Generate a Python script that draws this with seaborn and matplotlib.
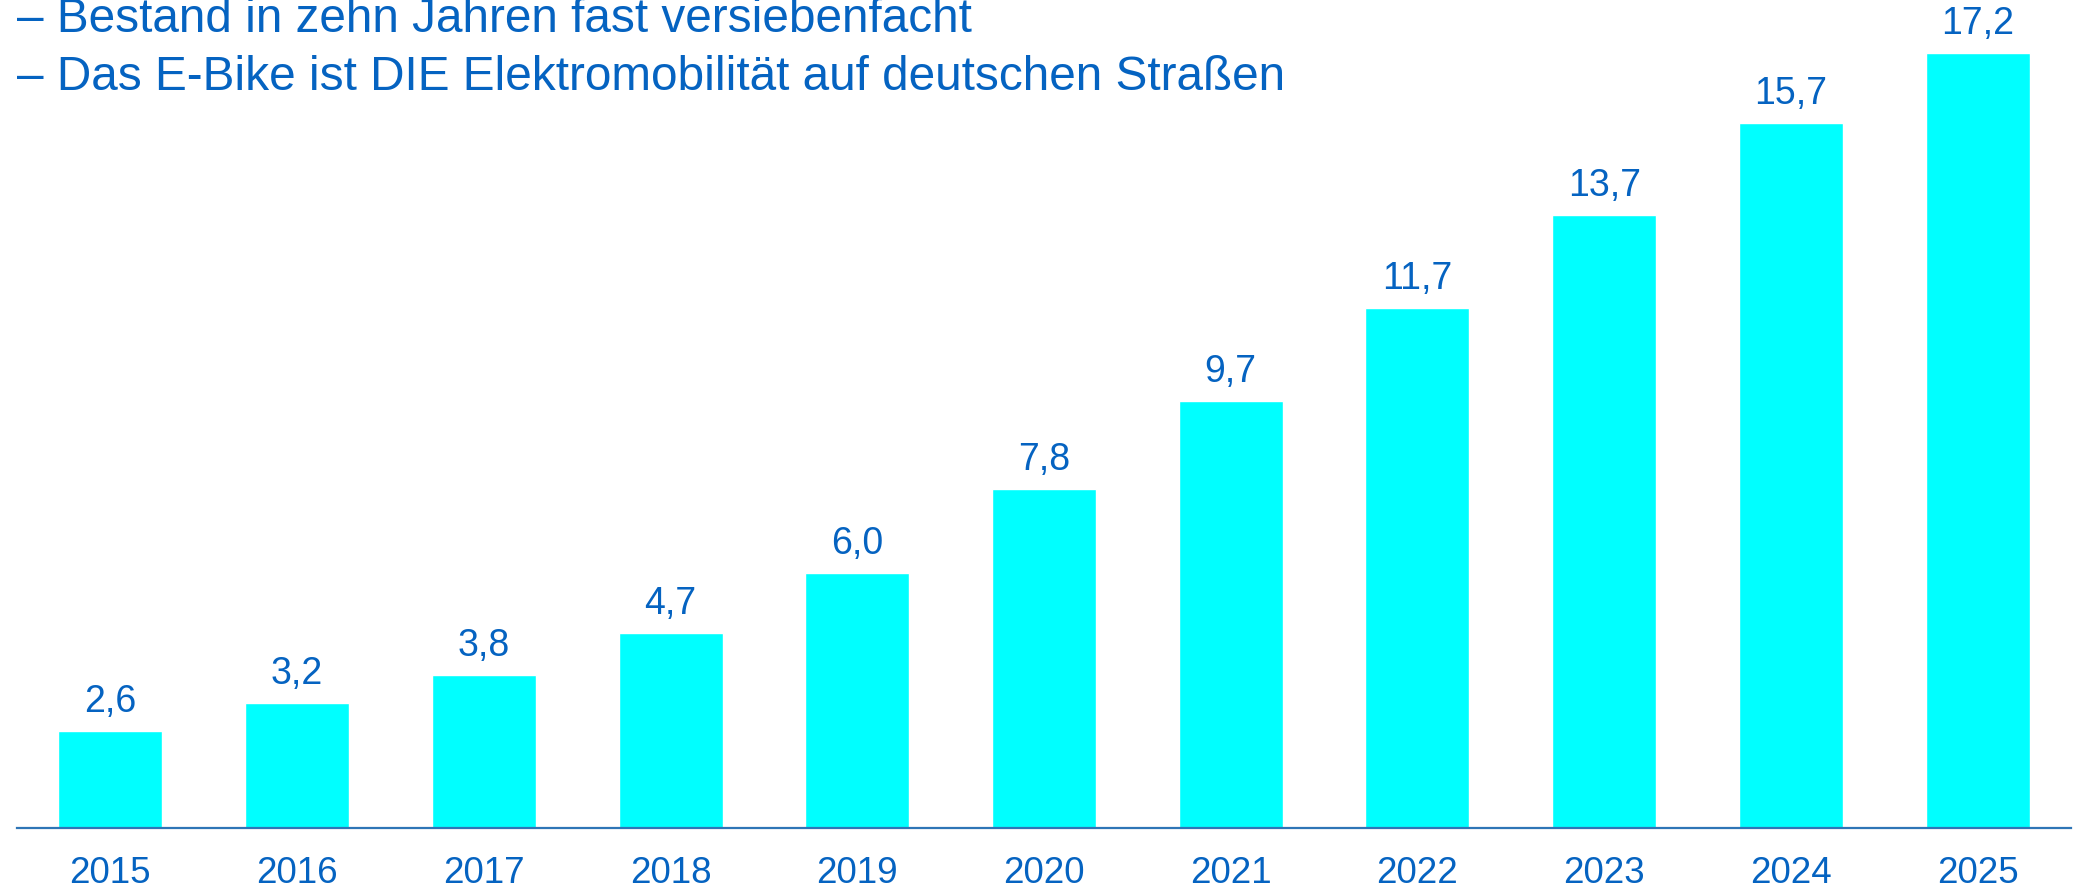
import matplotlib
matplotlib.use("Agg")
import matplotlib.pyplot as plt
import pandas as pd
import seaborn as sns

years = ["2015", "2016", "2017", "2018", "2019", "2020",
         "2021", "2022", "2023", "2024", "2025"]
bestand = [2.6, 3.2, 3.8, 4.7, 6.0, 7.8, 9.7, 11.7, 13.7, 15.7, 17.2]
headline = [
    "\u2013 Bestand in zehn Jahren fast versiebenfacht",
    "\u2013 Das E-Bike ist DIE Elektromobilit\u00e4t auf deutschen Stra\u00dfen",
]

blue = "#0563C1"
cyan = "#00FFFF"

sns.set_style("white")
plt.rcParams["font.family"] = ["Liberation Sans", "DejaVu Sans"]

df = pd.DataFrame({"Jahr": years, "Bestand": bestand})

W, H = 2083, 891
fig = plt.figure(figsize=(W / 100, H / 100), dpi=100)
ax = fig.add_axes([17 / W, (H - 828) / H, (2071 - 17) / W, 828 / H])

sns.barplot(data=df, x="Jahr", y="Bestand", color=cyan, saturation=1,
            width=0.557, ax=ax)

ax.set_xlim(-0.5, 10.5)
ax.set_ylim(0.51, 0.51 + 828 / 46.44)

# value labels above bars, German decimal comma
for i, v in enumerate(bestand):
    ax.annotate(f"{v:.1f}".replace(".", ","), xy=(i, v), xytext=(0, 19),
                textcoords="offset pixels", ha="center", va="baseline",
                fontsize=27, color=blue)

for s in ["top", "left", "right"]:
    ax.spines[s].set_visible(False)
ax.spines["bottom"].set_color("#2E75B6")
ax.spines["bottom"].set_linewidth(1.6)

ax.set_xlabel("")
ax.set_ylabel("")
ax.set_yticks([])
ax.tick_params(axis="x", length=0, pad=20, labelsize=26.5, labelcolor=blue)

# headline bullets at the top
fig.text(17 / W, 1 - 32 / H, headline[0], ha="left", va="baseline",
         fontsize=34.4, color=blue)
fig.text(17 / W, 1 - 90 / H, headline[1], ha="left", va="baseline",
         fontsize=34.4, color=blue)

fig.savefig("out.png", dpi=100)
